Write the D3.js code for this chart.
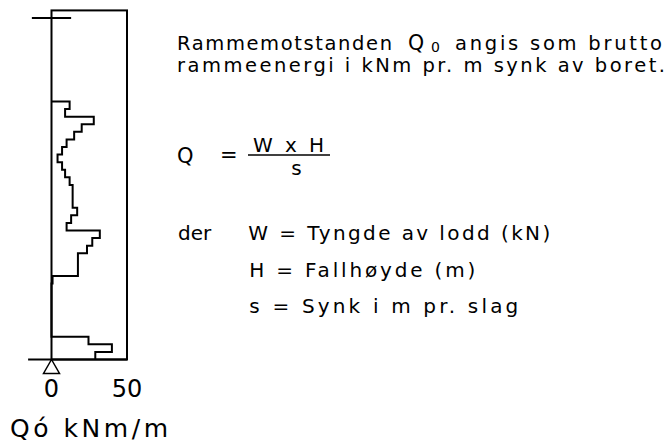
<!DOCTYPE html>
<html>
<head>
<meta charset="utf-8">
<script src="https://cdnjs.cloudflare.com/ajax/libs/d3/7.8.5/d3.min.js"></script>
<style>
	body { margin: 0; background: #fff; }
	text { font-family: "DejaVu Sans", sans-serif; fill: #000; }
</style>
</head>
<body>
<script>
// ram resistance profile Q0 (kNm/m) against depth (m)

var depthTop = [2.2, 2.4, 2.6, 2.8, 3.0, 3.2, 3.4, 3.6, 3.8, 4.0, 4.2, 4.4, 5.0, 5.2, 5.4, 5.6, 5.8, 6.0, 6.2, 6.8, 7.0, 8.4, 8.6, 8.8],
	q0 = [12, 9, 28, 20, 15, 10, 7, 4, 7, 9, 12, 14, 17, 13, 10, 32, 27, 23.5, 17.5, 0.7, 0, 24.5, 40, 29],
	depthEnd = 9.0,
	xTicks = [0, 50],
	xLabel = "Qó kNm/m";

var w = 669,
	h = 441;

var svg = d3.select("body")
	.append("svg")
	.attr("width", w)
	.attr("height", h);

var x = d3.scaleLinear().domain([0, 50]).range([51.5, 127]),
	y = d3.scaleLinear().domain([0, depthEnd]).range([18, 359.5]);

// frame
svg.append("rect")
	.attr("x", x(0))
	.attr("y", y(-0.2))
	.attr("width", x(50) - x(0))
	.attr("height", y(depthEnd) - y(-0.2))
	.attr("fill", "none")
	.attr("stroke", "#000")
	.attr("stroke-width", 2);

// ground level mark
svg.append("line")
	.attr("x1", x(-13)).attr("x2", x(13))
	.attr("y1", y(0)).attr("y2", y(0))
	.attr("stroke", "#000")
	.attr("stroke-width", 2);

// bottom line
svg.append("line")
	.attr("x1", x(-15.5)).attr("x2", x(50))
	.attr("y1", y(depthEnd)).attr("y2", y(depthEnd))
	.attr("stroke", "#000")
	.attr("stroke-width", 2);

// step profile
var pts = [[x(0), y(depthTop[0])]];
depthTop.forEach((d, i) => {
	var bottom = i < depthTop.length - 1 ? depthTop[i + 1] : depthEnd;
	pts.push([x(q0[i]), y(d)]);
	pts.push([x(q0[i]), y(bottom)]);
});

svg.append("path")
	.attr("d", d3.line()(pts))
	.attr("fill", "none")
	.attr("stroke", "#000")
	.attr("stroke-width", 2)
	.attr("stroke-linejoin", "miter");

// triangle at zero
var tx = x(0), ty = y(depthEnd);
svg.append("path")
	.attr("d", d3.line()([[tx, ty], [tx - 8, ty + 14], [tx + 8, ty + 14], [tx, ty]]))
	.attr("fill", "none")
	.attr("stroke", "#000")
	.attr("stroke-width", 1.5);

// tick labels
svg.selectAll(".tick")
	.data(xTicks)
	.enter()
	.append("text")
	.attr("class", "tick")
	.attr("x", d => x(d))
	.attr("y", 396.5)
	.attr("text-anchor", "middle")
	.style("font-size", "24px")
	.text(d => d);

svg.append("text")
	.attr("x", 10)
	.attr("y", 436.5)
	.attr("textLength", 158)
	.attr("lengthAdjust", "spacing")
	.style("font-size", "25px")
	.text(xLabel);

// explanation text
function txt(s, tx, ty, len, size){
	var t = svg.append("text")
		.attr("x", tx)
		.attr("y", ty)
		.style("font-size", (size || 20) + "px")
		.text(s);
	if(len) t.attr("textLength", len).attr("lengthAdjust", "spacing");
	return t;
}

txt("Rammemotstanden", 177, 50, 215, 19.5);
txt("Q", 408, 50, null, 20.5);
txt("0", 431, 52, null, 14);
txt("angis som brutto", 455, 50, 207, 19.5);
txt("rammeenergi i kNm pr. m synk av boret.", 177, 71.5, 488, 19.5);

txt("Q", 177, 162.5, null, 21);
txt("=", 220, 162, null, 21);
txt("W x H", 253, 152, 71);
svg.append("line")
	.attr("x1", 248).attr("x2", 330)
	.attr("y1", 155).attr("y2", 155)
	.attr("stroke", "#000")
	.attr("stroke-width", 1.5);
txt("s", 296.5, 175).attr("text-anchor", "middle");

txt("der", 178, 240);
txt("W = Tyngde av lodd (kN)", 248.3, 240, 302);
txt("H = Fallhøyde (m)", 249.3, 277, 226);
txt("s = Synk i m pr. slag", 249.3, 313, 269);
</script>
</body>
</html>
